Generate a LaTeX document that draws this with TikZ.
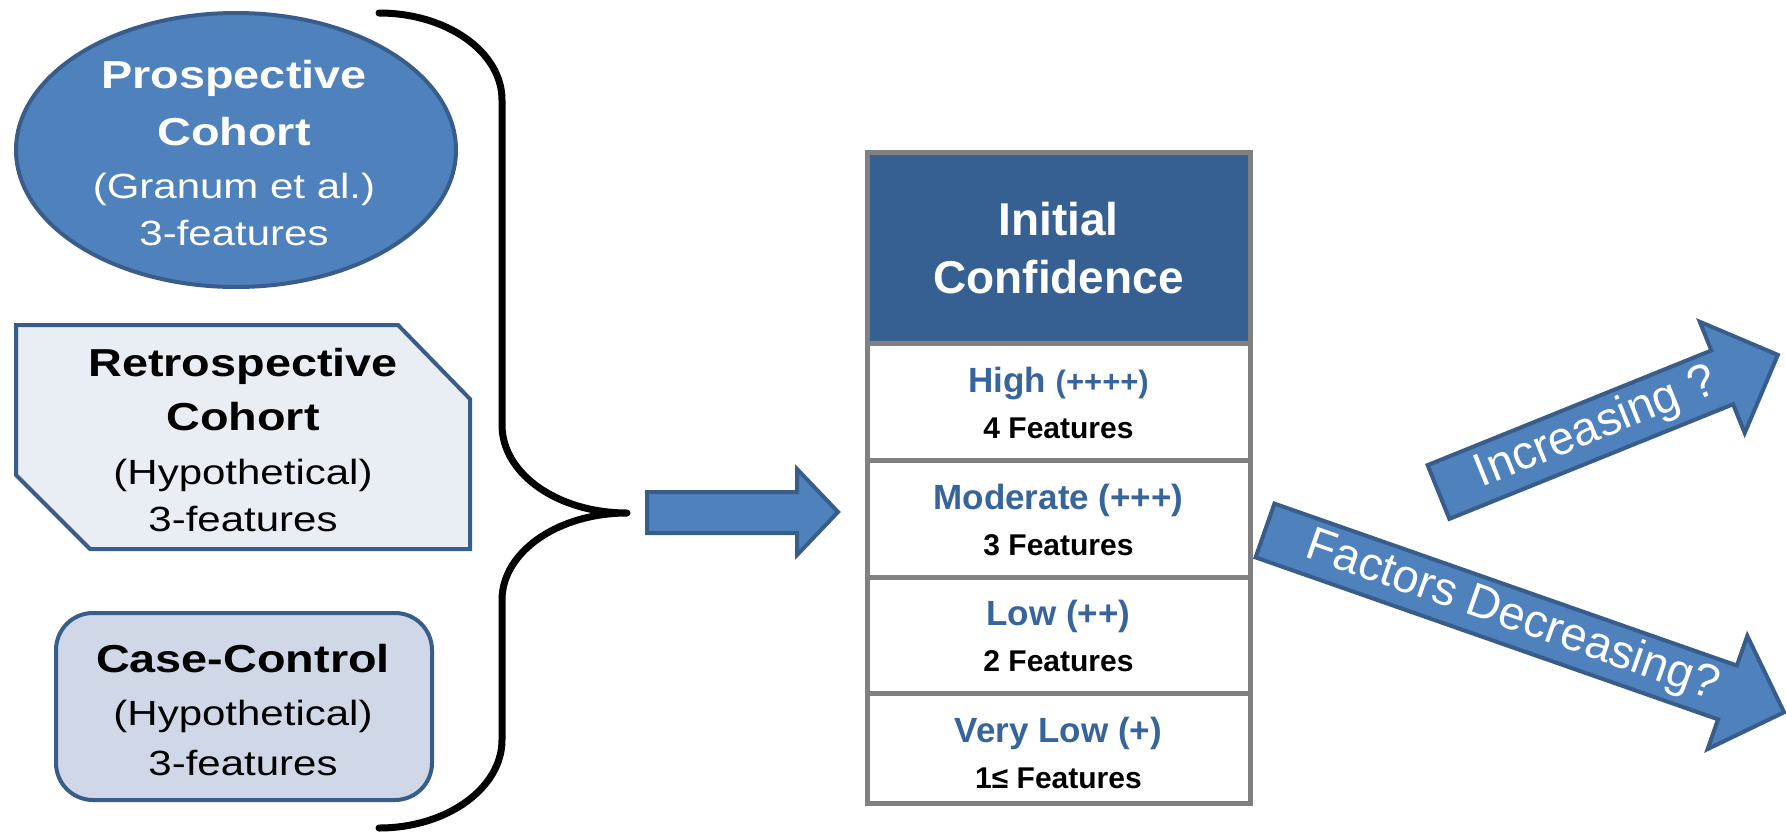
\documentclass[tikz,border=0pt]{standalone}
\usepackage{fontspec}
\setmainfont{Liberation Sans}
\newfontfamily\widesans{Liberation Sans}[FakeStretch=1.2]
\usetikzlibrary{shapes.geometric}

\definecolor{shapeblue}{HTML}{4F81BD}
\definecolor{edgeblue}{HTML}{385D8A}
\definecolor{paleblue}{HTML}{E9EDF4}
\definecolor{softblue}{HTML}{D0D8E8}
\definecolor{headblue}{HTML}{376092}
\definecolor{textblue}{HTML}{37649B}
\definecolor{rulegray}{HTML}{808080}

\newcommand{\fsz}[1]{\fontsize{#1}{#1}\selectfont}

\begin{document}
\begin{tikzpicture}[x=1pt,y=-1pt,
  boldL/.style={font=\widesans\bfseries\fsz{39}, anchor=base, inner sep=0pt},
  regL/.style={font=\widesans\fsz{35}, anchor=base, inner sep=0pt},
  shapeline/.style={draw=edgeblue, line width=4pt, line join=miter},
  blockarrow/.style={draw=edgeblue, fill=shapeblue, line width=4pt, line join=miter},
  tabcell/.style={rectangle, draw=rulegray, line width=5pt, minimum width=383pt, inner sep=0pt},
  headtxt/.style={font=\bfseries\fsz{46}, text=white, anchor=base, inner sep=0pt},
  levtxt/.style={font=\bfseries\fsz{35}, text=textblue, anchor=base, inner sep=0pt},
  feattxt/.style={font=\bfseries\fsz{30}, text=black, anchor=base, inner sep=0pt},
  arrowtxt/.style={font=\fsz{47}, text=white, inner sep=0pt, transform shape}
]
\useasboundingbox (0,0) rectangle (1786,835);

% --- study designs on the left ---
\node[ellipse, shapeline, fill=shapeblue, minimum width=440pt, minimum height=274pt, inner sep=0pt] (pros) at (236,150) {};
\node[boldL, text=white] (pros1) at (234,88)  {Prospective};
\node[boldL, text=white] (pros2) at (234,145) {Cohort};
\node[regL,  text=white] (pros3) at (234,198) {(Granum et al.)};
\node[regL,  text=white] (pros4) at (234,245) {3-features};

\draw[shapeline, fill=paleblue]
  (16,325) -- (398,325) -- (470,399) -- (470,549) -- (90,549) -- (16,475) -- cycle;
\coordinate (retro) at (243,437);
\node[boldL] (retro1) at (243,376) {Retrospective};
\node[boldL] (retro2) at (243,430) {Cohort};
\node[regL]  (retro3) at (243,484) {(Hypothetical)};
\node[regL]  (retro4) at (243,531) {3-features};

\node[rectangle, rounded corners=37pt, shapeline, fill=softblue, minimum width=376pt, minimum height=187pt, inner sep=0pt] (cc) at (244,706.5) {};
\node[boldL] (cc1) at (243,672) {Case-Control};
\node[regL]  (cc2) at (243,725) {(Hypothetical)};
\node[regL]  (cc3) at (243,775) {3-features};

% --- brace gathering the three designs ---
\coordinate (bracetip) at (627,513);
\draw[line width=7pt, line cap=round, line join=round]
  (379,13) .. controls (447,13) and (502,52) .. (502,100)
  -- (502,425)
  .. controls (502,474) and (558,513) .. (bracetip)
  .. controls (558,513) and (502,552) .. (502,600)
  -- (502,740)
  .. controls (502,788) and (447,828) .. (379,828);

% --- arrow into the table ---
\draw[blockarrow]
  (647,492) -- (797,492) -- (797,469) -- (838,512) -- (797,555) -- (797,533) -- (647,533) -- cycle;

% --- confidence table ---
\node[tabcell, fill=headblue, minimum height=191pt] (head) at (1058.5,247.5) {};
\node[tabcell, fill=white, minimum height=117pt] (r1) at (1058.5,401.5) {};
\node[tabcell, fill=white, minimum height=117pt] (r2) at (1058.5,518.5) {};
\node[tabcell, fill=white, minimum height=116pt] (r3) at (1058.5,635) {};
\node[tabcell, fill=white, minimum height=110pt] (r4) at (1058.5,748) {};

\node[headtxt] (head1) at (1058.5,235) {Initial};
\node[headtxt] (head2) at (1058.5,293) {Confidence};

\node[levtxt]  (lev1)  at (1058.5,392) {High {\fsz{31}(++++)}};
\node[feattxt] (feat1) at (1058.5,438) {4 Features};
\node[levtxt]  (lev2)  at (1058.5,509) {Moderate (+++)};
\node[feattxt] (feat2) at (1058.5,555) {3 Features};
\node[levtxt]  (lev3)  at (1058.5,625) {Low (++)};
\node[feattxt] (feat3) at (1058.5,671) {2 Features};
\node[levtxt]  (lev4)  at (1058.5,742) {Very Low (+)};
\node[feattxt] (feat4) at (1058.5,788) {1≤ Features};

% --- outgoing arrows ---
\begin{scope}[shift={(1438.5,492)}, rotate=22]
  \draw[blockarrow]
    (0,-29) -- (306,-29) -- (306,-60) -- (366,0) -- (306,60) -- (306,29) -- (0,29) -- cycle;
  \node[arrowtxt] (inc) at (170,0) {Increasing ?};
\end{scope}

\begin{scope}[shift={(1265,530.5)}, rotate=-19.3]
  \draw[blockarrow]
    (0,-28.5) -- (490,-28.5) -- (490,-60) -- (550,0) -- (490,60) -- (490,28.5) -- (0,28.5) -- cycle;
  \node[arrowtxt] (dec) at (262,0) {Factors Decreasing?};
\end{scope}
\end{tikzpicture}
\end{document}
